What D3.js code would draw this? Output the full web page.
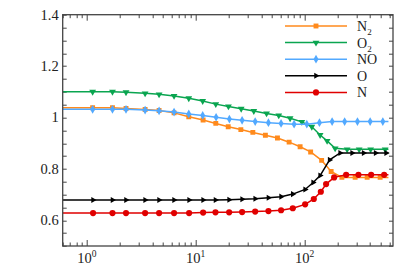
<!DOCTYPE html>
<html>
<head>
<meta charset="utf-8">
<script src="https://cdn.jsdelivr.net/npm/d3@7"></script>
<style>
  body { margin: 0; background: #fff; }
  svg { display: block; font-family: "Liberation Serif", "DejaVu Serif", serif; }
</style>
</head>
<body>
<svg width="415" height="277"></svg>
<script>
// x limits of the drawn lines (first and last sample of each run)
const tFirst = 0.6
const tLast = 590

// N2
const n2T = [1.13, 1.72, 2.29, 3.43, 4.61, 6.33, 8.64, 11.7, 15.3, 19.9, 26.0, 33.5, 43.7, 56.4, 72.2, 91.1, 113.8, 143.6, 175.6, 220.3, 291.8, 376.2, 495.2]
const n2Y = [1.038, 1.038, 1.035, 1.031, 1.027, 1.018, 1.003, 0.990, 0.977, 0.964, 0.953, 0.942, 0.931, 0.920, 0.904, 0.886, 0.866, 0.833, 0.790, 0.767, 0.767, 0.767, 0.767]
// O2
const o2T = [1.13, 1.72, 2.29, 3.43, 4.61, 6.33, 8.64, 11.6, 15.3, 20.0, 26.2, 34.2, 44.8, 58.0, 73.7, 94.5, 116.7, 139.1, 161.3, 191.1, 246.3, 317.6, 405, 550.6]
const o2Y = [1.100, 1.100, 1.098, 1.094, 1.090, 1.084, 1.075, 1.064, 1.052, 1.043, 1.034, 1.025, 1.016, 1.008, 0.997, 0.983, 0.964, 0.932, 0.909, 0.880, 0.876, 0.876, 0.876, 0.876]
// NO
const noT = [1.13, 1.72, 2.29, 3.43, 4.61, 6.33, 8.64, 11.6, 15.4, 20.4, 26.7, 35.2, 46.6, 60.9, 80.2, 105, 137.1, 179.3, 233.7, 306.4, 400.9, 524.3]
const noY = [1.032, 1.032, 1.032, 1.029, 1.026, 1.021, 1.014, 1.008, 1.001, 0.994, 0.989, 0.984, 0.980, 0.977, 0.974, 0.974, 0.980, 0.984, 0.984, 0.984, 0.984, 0.984]
// O
const oT = [1.14, 1.72, 2.29, 3.43, 4.61, 6.33, 8.70, 11.7, 15.2, 20.3, 26.7, 35.2, 46.6, 60.9, 78.0, 101.3, 120, 139.1, 170.1, 212.5, 273.8, 349.3, 450.3, 562.3]
const oY = [0.679, 0.679, 0.679, 0.679, 0.679, 0.679, 0.679, 0.679, 0.679, 0.680, 0.682, 0.684, 0.688, 0.692, 0.702, 0.720, 0.747, 0.774, 0.835, 0.862, 0.862, 0.862, 0.862, 0.862]
// N
const nT = [1.14, 1.72, 2.29, 3.43, 4.61, 6.33, 8.70, 11.7, 15.2, 20.3, 26.7, 35.2, 46.6, 60.9, 78.0, 101.3, 121.7, 141.2, 157.9, 187.1, 241.2, 312.9, 409.4, 539.0]
const nY = [0.628, 0.628, 0.628, 0.628, 0.628, 0.628, 0.628, 0.630, 0.631, 0.631, 0.632, 0.634, 0.636, 0.639, 0.647, 0.662, 0.683, 0.711, 0.741, 0.767, 0.777, 0.777, 0.777, 0.777]

const yTickLabels = [0.6, 0.8, 1, 1.2, 1.4]
const xTickLabels = [1, 10, 100]

const series = [
	{ name: "N", sub: "2", t: n2T, y: n2Y, color: "#ff8a1c", symbol: d3.symbolSquare, size: 24, rotate: 0 },
	{ name: "O", sub: "2", t: o2T, y: o2Y, color: "#0aa550", symbol: d3.symbolTriangle, size: 20, rotate: 180 },
	{ name: "NO", sub: "", t: noT, y: noY, color: "#52a9ff", symbol: d3.symbolDiamond, size: 22, rotate: 0 },
	{ name: "O", sub: "", t: oT, y: oY, color: "#000000", symbol: d3.symbolTriangle, size: 16, rotate: 90 },
	{ name: "N", sub: "", t: nT, y: nY, color: "#e00000", symbol: d3.symbolCircle, size: 30, rotate: 0 },
]

const svg = d3.select("svg")
const margin = { top: 14.7, right: 22, bottom: 31, left: 62.7 }
const W = 415, H = 277
const iw = W - margin.left - margin.right
const ih = H - margin.top - margin.bottom

const x = d3.scaleLog().domain([0.6, 650]).range([0, iw])
const y = d3.scaleLinear().domain([0.5, 1.4]).range([ih, 0])

const g = svg.append("g").attr("transform", `translate(${margin.left},${margin.top})`)

g.append("clipPath").attr("id", "clip")
	.append("rect").attr("width", iw).attr("height", ih)

const axisColor = "#444"

// minor / major ticks
const yMinor = d3.range(0.5, 1.4001, 0.05)
const xMinor = []
for (let e = -1; e <= 2; e++) {
	for (let m = 1; m <= 9; m++) {
		const v = m * Math.pow(10, e)
		if (v >= 0.6 && v <= 650) xMinor.push(v)
	}
}

const ticks = g.append("g").attr("stroke", axisColor).attr("stroke-width", 1)
yMinor.forEach(v => {
	const yy = Math.round(y(v)) + 0.5
	ticks.append("line").attr("x1", 0).attr("x2", 4).attr("y1", yy).attr("y2", yy)
	ticks.append("line").attr("x1", iw - 4).attr("x2", iw).attr("y1", yy).attr("y2", yy)
})
xMinor.forEach(v => {
	const major = xTickLabels.includes(v)
	const len = major ? 6 : 3.5
	const xx = Math.round(x(v)) + 0.5
	ticks.append("line").attr("x1", xx).attr("x2", xx).attr("y1", ih).attr("y2", ih - len)
	ticks.append("line").attr("x1", xx).attr("x2", xx).attr("y1", 0).attr("y2", len)
})

// lines
const line = d3.line()
	.x(d => x(d[0]))
	.y(d => y(d[1]))

const plot = g.append("g").attr("clip-path", "url(#clip)")
series.forEach(s => {
	const pts = s.t.map((t, i) => [t, s.y[i]])
	const full = [[tFirst, s.y[0]], ...pts, [tLast, s.y[s.y.length - 1]]]
	plot.append("path")
		.datum(full)
		.attr("fill", "none")
		.attr("stroke", s.color)
		.attr("stroke-width", 1.5)
		.attr("d", line)
	plot.selectAll(null)
		.data(pts)
		.enter()
		.append("path")
		.attr("d", d3.symbol().type(s.symbol).size(s.size))
		.attr("fill", s.color)
		.attr("transform", d => `translate(${x(d[0])},${y(d[1])}) rotate(${s.rotate})`)
})

// frame
g.append("rect")
	.attr("width", iw).attr("height", ih)
	.attr("fill", "none")
	.attr("stroke", axisColor)
	.attr("stroke-width", 1.3)

// tick labels
g.selectAll(".ylab")
	.data(yTickLabels)
	.enter()
	.append("text")
	.attr("x", -4)
	.attr("y", d => y(d) + 5)
	.attr("text-anchor", "end")
	.attr("font-size", 14.5)
	.attr("fill", "#222")
	.text(d => d)

const xl = g.selectAll(".xlab")
	.data(xTickLabels)
	.enter()
	.append("text")
	.attr("x", d => x(d))
	.attr("y", ih + 17)
	.attr("text-anchor", "middle")
	.attr("font-size", 14.5)
	.attr("fill", "#222")
xl.append("tspan").text("10")
xl.append("tspan")
	.attr("font-size", 9.5)
	.attr("dy", -6)
	.text(d => Math.round(Math.log10(d)))

// legend
const legend = g.append("g").attr("transform", `translate(${285 - margin.left},${26 - margin.top})`)
series.forEach((s, i) => {
	const row = legend.append("g").attr("transform", `translate(0,${i * 16.6})`)
	row.append("line")
		.attr("x1", 0).attr("x2", 62)
		.attr("stroke", s.color).attr("stroke-width", 1.5)
	row.append("path")
		.attr("d", d3.symbol().type(s.symbol).size(s.size))
		.attr("fill", s.color)
		.attr("transform", `translate(31,0) rotate(${s.rotate})`)
	const txt = row.append("text")
		.attr("x", 72).attr("y", 5)
		.attr("font-size", 14)
		.attr("fill", "#222")
	txt.append("tspan").text(s.name)
	if (s.sub) {
		txt.append("tspan").attr("font-size", 9).attr("dy", 4).text(s.sub)
	}
})
</script>
</body>
</html>
